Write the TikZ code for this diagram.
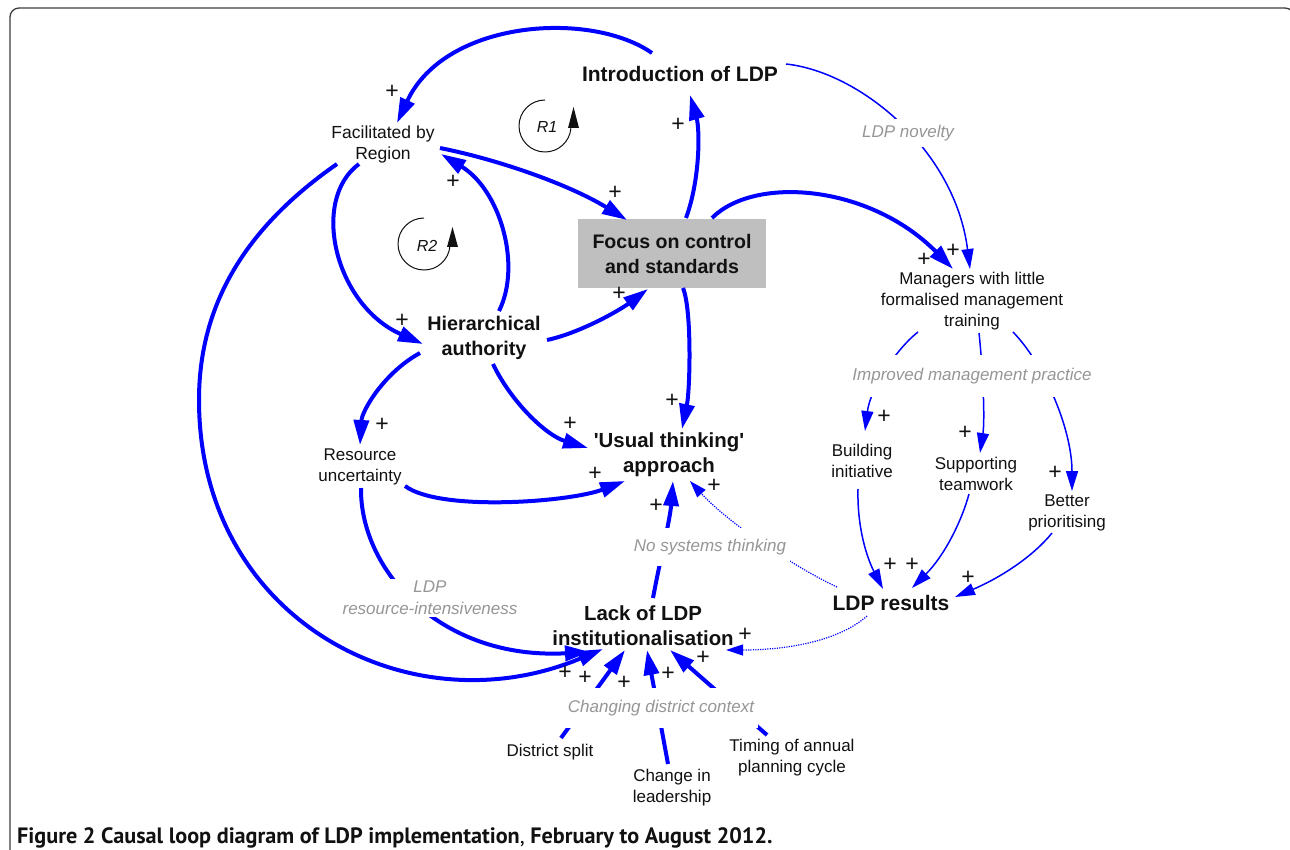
\documentclass[tikz,border=0pt]{standalone}
\usepackage{fontspec}
\setmainfont{Liberation Sans}
\newfontfamily\capfont{PT Sans}
\usetikzlibrary{arrows.meta,calc}
\definecolor{lnblue}{RGB}{0,0,255}
\definecolor{boxgray}{RGB}{191,191,191}
\definecolor{lblgray}{RGB}{150,150,150}
\definecolor{framecol}{RGB}{60,60,60}
\definecolor{inkcol}{RGB}{17,17,17}
\tikzset{
  mainedge/.style={draw=lnblue, line width=4pt, -{Triangle[length=25pt,width=15pt]}},
  thinedge/.style={draw=lnblue, line width=1.5pt, -{Triangle[length=20pt,width=12pt]}},
  dotedge/.style={draw=lnblue, line width=1.2pt, dash pattern=on 1.2pt off 1.2pt, -{Triangle[length=17pt,width=11pt]}},
  bignode/.style={font=\fontsize{20.4}{25}\selectfont\bfseries, text=inkcol, align=center, inner sep=0pt},
  smallnode/.style={font=\fontsize{17}{21}\selectfont, text=inkcol, align=center, inner sep=0pt},
  glabel/.style={font=\fontsize{17}{22}\selectfont\itshape, text=lblgray, fill=white, align=center, inner xsep=4pt, inner ysep=6pt},
  plus/.style={font=\fontsize{23}{23}\selectfont, text=inkcol, inner sep=0pt},
  rlabel/.style={font=\fontsize{16}{16}\selectfont\itshape, text=inkcol, inner sep=0pt},
  loopline/.style={draw=inkcol, line width=1pt},
}
\begin{document}
\begin{tikzpicture}[x=1pt,y=-1pt]
\useasboundingbox (0,0) rectangle (1290,850);
\fill[white] (0,0) rectangle (1290,850);
\draw[framecol, line width=1.3pt, rounded corners=9pt] (10,880) -- (10,8) -- (1294,8) -- (1294,880);

% nodes
\node[bignode, font=\fontsize{21}{25}\selectfont\bfseries] (intro) at (680,74) {Introduction of LDP};
\node[smallnode, font=\fontsize{17.5}{21}\selectfont] (fac) at (383,144) {Facilitated by\\Region};
\node[bignode, fill=boxgray, minimum width=188pt, minimum height=69pt, font=\fontsize{19.6}{25}\selectfont\bfseries] (focus) at (672,253.5) {Focus on control\\and standards};
\node[bignode, font=\fontsize{19.8}{25}\selectfont\bfseries] (hier) at (484,338) {Hierarchical\\authority};
\node[bignode] (usual) at (669,455) {\textquotesingle Usual thinking\textquotesingle\\approach};
\node[smallnode] (res) at (360,467) {Resource\\uncertainty};
\node[bignode] (lack) at (643,626) {Lack of LDP\\institutionalisation};
\node[bignode, font=\fontsize{21}{25}\selectfont\bfseries] (results) at (891,603) {LDP results};
\node[smallnode] (mgr) at (972,301) {Managers with little\\formalised management\\training};
\node[smallnode] (build) at (862,461) {Building\\initiative};
\node[smallnode] (supp) at (976,474) {Supporting\\teamwork};
\node[smallnode] (better) at (1067,513) {Better\\prioritising};
\node[smallnode] (split) at (550,752) {District split};
\node[smallnode] (change) at (672,788) {Change in\\leadership};
\node[smallnode] (timing) at (792,758) {Timing of annual\\planning cycle};

% connectors
\draw[mainedge] ($(intro)+(-28,-21)$) .. controls (590,10) and (445,20) .. ($(fac)+(14,-21)$);
\draw[mainedge] ($(focus)+(14,-35.5)$) .. controls (700,180) and (700,130) .. ($(intro)+(10,21)$);
\draw[mainedge] ($(fac)+(57,4)$) .. controls (500,160) and (570,185) .. ($(focus)+(-45,-33.5)$);
\draw[mainedge] ($(hier)+(15,-27)$) .. controls (522,265) and (500,190) .. ($(fac)+(58,10)$);
\draw[mainedge] ($(fac)+(-24,20)$) .. controls (310,200) and (335,305) .. ($(hier)+(-61,6)$);
\draw[mainedge] ($(hier)+(63,2)$) .. controls (580,333) and (620,310) .. ($(focus)+(-24,35.5)$);
\draw[mainedge] ($(hier)+(-64,15)$) .. controls (385,372) and (362,410) .. ($(res)+(0,-22)$);
\draw[mainedge] ($(hier)+(9,26)$) .. controls (510,400) and (545,435) .. ($(usual)+(-81,-7)$);
\draw[mainedge] ($(focus)+(11,34.5)$) .. controls (692,310) and (690,390) .. ($(usual)+(13,-26)$);
\draw[mainedge] ($(res)+(45,19)$) .. controls (440,512) and (570,502) .. ($(usual)+(-44,26)$);
\draw[mainedge] ($(lack)+(10,-28)$) .. controls (660,560) and (670,520) .. ($(usual)+(4,26)$);
\draw[mainedge] ($(res)+(1,21)$) .. controls (360,570) and (440,660) .. ($(lack)+(-53,26)$);
\draw[mainedge] ($(fac)+(-46,20)$) .. controls (245,228) and (199,305) .. (199,400) .. controls (199,620) and (410,730) .. ($(lack)+(-40,23)$);
\draw[mainedge] ($(focus)+(40,-35.5)$) .. controls (755,175) and (870,185) .. ($(mgr)+(-19,-32)$);
\draw[thinedge] ($(intro)+(106,-10)$) .. controls (860,72) and (955,150) .. ($(mgr)+(-2,-32)$);
\draw[mainedge] ($(split)+(11,-14)$) -- ($(lack)+(-18,24)$);
\draw[mainedge] ($(change)+(-4,-24)$) -- ($(lack)+(4,24)$);
\draw[mainedge] ($(timing)+(-25,-23)$) -- ($(lack)+(27,24)$);
\draw[thinedge] ($(mgr)+(-54,31)$) .. controls (895,350) and (870,390) .. ($(build)+(3,-30)$);
\draw[thinedge] ($(mgr)+(7,32)$) .. controls (983,370) and (985,420) .. ($(supp)+(4,-21)$);
\draw[thinedge] ($(mgr)+(41,31)$) .. controls (1045,365) and (1072,430) .. ($(better)+(5,-22)$);
\draw[thinedge] ($(build)+(-4,28)$) .. controls (857,530) and (868,560) .. ($(results)+(-8,-14)$);
\draw[thinedge] ($(supp)+(-7,20)$) .. controls (962,520) and (945,555) .. ($(results)+(21,-15)$);
\draw[thinedge] ($(better)+(-15,20)$) .. controls (1030,560) and (995,580) .. ($(results)+(64,-6)$);
\draw[dotedge] ($(results)+(-54,-16)$) .. controls (800,570) and (730,525) .. ($(usual)+(21,26)$);
\draw[dotedge] ($(results)+(-24,13)$) .. controls (840,640) and (790,650) .. ($(lack)+(83,24)$);

% grey labels (gaps in the links)
\node[glabel] (novelty) at (908,133) {LDP novelty};
\node[glabel, inner ysep=13pt] (imp) at (972,376) {Improved management practice};
\node[glabel, inner ysep=11pt] (nosys) at (710,547) {No systems thinking};
\node[glabel, inner ysep=2pt] (resint) at (430,598) {LDP\\resource-intensiveness};
\node[glabel, inner ysep=12pt] (chg) at (661,708) {Changing district context};

% polarity signs
\foreach \px/\py [count=\i] in {392/92, 678/125, 453/182, 615/193, 619/294, 402/321, 382/425, 570/424, 672/401, 595/474, 656/506, 714/486, 924/260, 953/251, 884/417, 965/433, 1055/473, 890/565, 912/565, 968/578, 745/635, 703/658, 668/674, 624/683, 585/678, 565/673}
  \node[plus] (p\i) at (\px,\py) {+};

% loop markers
\node[rlabel] (r1) at (547,127) {R1};
\draw[loopline] ($(r1)+(-2,-27)$) arc[start angle=-90, end angle=-355, radius=26];
\fill[inkcol] ($(r1)+(21,1)$) -- ($(r1)+(32,1)$) -- ($(r1)+(26.5,-20)$) -- cycle;
\node[rlabel] (r2) at (427,246) {R2};
\draw[loopline] ($(r2)+(-3,-28)$) arc[start angle=-90, end angle=-355, radius=26];
\fill[inkcol] ($(r2)+(20,1)$) -- ($(r2)+(31,1)$) -- ($(r2)+(25.5,-19)$) -- cycle;

% caption
\node[anchor=base west, inner sep=0pt, text=inkcol, font=\capfont\fontsize{22.2}{24}\selectfont] (cap) at (17,843) {\bfseries Figure 2 Causal loop diagram of LDP implementation{\mdseries ,} February to August 2012.};
\end{tikzpicture}
\end{document}
